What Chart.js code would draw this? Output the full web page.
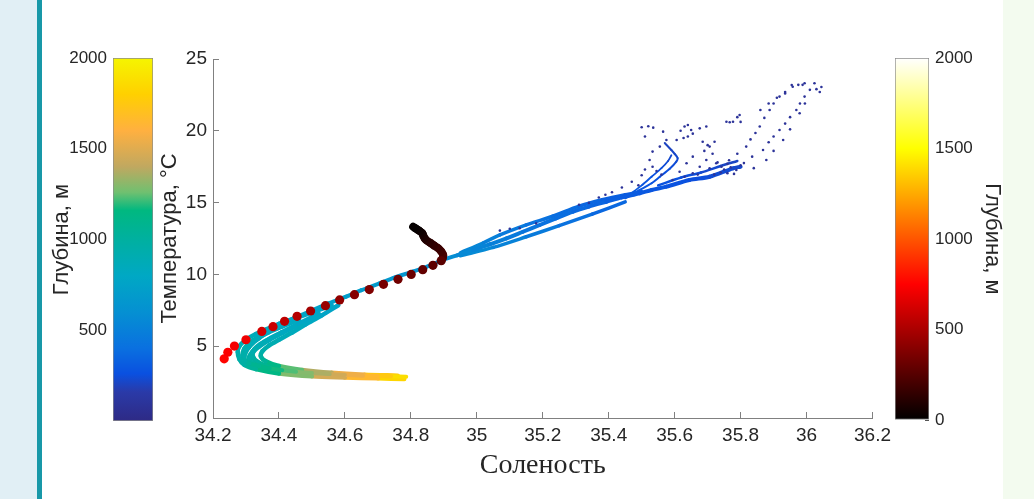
<!DOCTYPE html>
<html>
<head>
<meta charset="utf-8">
<script src="https://cdn.jsdelivr.net/npm/chart.js@4.4.1/dist/chart.umd.min.js"></script>
<style>
    body { margin: 0; width: 1034px; height: 499px; background: #e1eff5; position: relative; overflow: hidden; }
    #polosa { position: absolute; left: 37px; top: 0; width: 5px; height: 499px; background: #1898a8; }
    #panel { position: absolute; left: 42px; top: 0; width: 961px; height: 499px; background: #fff; }
    #pravo { position: absolute; left: 1003px; top: 0; width: 31px; height: 499px; background: #f3fbef; }
    canvas { position: absolute; }
</style>
</head>
<body>
<div id="polosa"></div>
<div id="panel"></div>
<div id="pravo"></div>
<canvas id="cbLevyj" width="118" height="499" style="left:42px;top:0"></canvas>
<canvas id="grafik" width="753" height="479" style="left:150px;top:20px"></canvas>
<canvas id="cbPravyj" width="123" height="499" style="left:880px;top:0"></canvas>
<script>
// подписи осей
const tikiSolenost = [34.2, 34.4, 34.6, 34.8, 35, 35.2, 35.4, 35.6, 35.8, 36, 36.2];
const tikiTemp = [0, 5, 10, 15, 20, 25];
const tikiLevyj = [500, 1000, 1500, 2000];
const tikiPravyj = [0, 500, 1000, 1500, 2000];

// станция с маркерами (цвет - глубина, шкала справа)
const tochkiS = [34.234, 34.245, 34.265, 34.300, 34.348, 34.382, 34.417, 34.455, 34.496, 34.541, 34.584, 34.629, 34.674, 34.717, 34.761, 34.801, 34.836, 34.867, 34.892];
const tochkiT = [4.12, 4.58, 5.01, 5.45, 6.03, 6.36, 6.73, 7.08, 7.45, 7.82, 8.22, 8.59, 8.94, 9.31, 9.66, 10.00, 10.33, 10.63, 10.95];
const tochkiD = [760, 740, 720, 700, 620, 590, 560, 530, 480, 450, 420, 395, 375, 350, 330, 310, 290, 275, 265];

// верхний слой той же станции
const verhS = [34.892, 34.897, 34.898, 34.892, 34.883, 34.870, 34.858, 34.848, 34.842, 34.838, 34.835, 34.828, 34.819, 34.812, 34.807];
const verhT = [10.95, 11.15, 11.35, 11.60, 11.82, 12.02, 12.21, 12.36, 12.51, 12.68, 12.86, 13.00, 13.14, 13.24, 13.32];
const verhD = [260, 240, 220, 200, 180, 160, 140, 120, 100, 85, 70, 50, 35, 20, 10];

// профили (цвет - глубина, шкала слева)
const prof1S = [34.786, 34.74, 34.70, 34.655, 34.60, 34.554, 34.50, 34.452, 34.41, 34.372, 34.34, 34.311, 34.298, 34.296, 34.301, 34.31, 34.321, 34.34, 34.362, 34.39, 34.422, 34.46, 34.503, 34.55, 34.604, 34.65, 34.705, 34.75, 34.806, 34.85, 34.891, 34.94, 34.989, 35.04, 35.09, 35.14, 35.191, 35.24, 35.292, 35.34, 35.393, 35.44, 35.494, 35.53, 35.575, 35.645, 35.706, 35.777, 35.80];
const prof1T = [2.88, 2.90, 2.93, 2.95, 3.00, 3.06, 3.13, 3.22, 3.33, 3.46, 3.62, 3.81, 4.00, 4.27, 4.62, 4.92, 5.20, 5.55, 5.90, 6.30, 6.71, 7.10, 7.52, 7.98, 8.45, 8.90, 9.38, 9.78, 10.19, 10.55, 10.95, 11.33, 11.70, 12.10, 12.51, 12.97, 13.44, 13.90, 14.37, 14.72, 15.06, 15.36, 15.65, 15.88, 16.11, 16.57, 16.80, 17.39, 17.50];
const prof1D = [1950, 1800, 1700, 1600, 1500, 1400, 1330, 1260, 1200, 1150, 1100, 1050, 1000, 960, 930, 900, 880, 860, 840, 820, 800, 780, 760, 740, 720, 700, 680, 660, 640, 620, 600, 570, 540, 510, 480, 450, 420, 400, 380, 360, 340, 320, 300, 290, 280, 260, 245, 230, 220];

const prof2S = [34.78, 34.70, 34.60, 34.50, 34.40, 34.33, 34.295, 34.28, 34.275, 34.28, 34.30, 34.33, 34.36, 34.40, 34.45, 34.50, 34.56];
const prof2T = [2.72, 2.76, 2.82, 2.90, 3.10, 3.40, 3.70, 4.10, 4.60, 5.00, 5.45, 5.85, 6.15, 6.55, 6.95, 7.35, 7.85];
const prof2D = [1900, 1750, 1550, 1380, 1200, 1080, 1000, 960, 930, 900, 880, 860, 840, 820, 800, 780, 750];

const prof3S = [34.76, 34.66, 34.56, 34.47, 34.40, 34.36, 34.345, 34.35, 34.37, 34.40, 34.44, 34.48, 34.53, 34.58];
const prof3T = [2.95, 3.02, 3.15, 3.35, 3.62, 3.95, 4.30, 4.65, 5.05, 5.45, 5.95, 6.50, 7.15, 7.85];
const prof3D = [1850, 1650, 1450, 1300, 1180, 1080, 1000, 960, 920, 890, 860, 830, 790, 750];

const prof4S = [34.72, 34.60, 34.50, 34.42, 34.36, 34.32, 34.31, 34.32, 34.34, 34.37, 34.41, 34.46, 34.52];
const prof4T = [2.82, 2.90, 3.02, 3.20, 3.45, 3.80, 4.20, 4.60, 5.00, 5.45, 5.95, 6.55, 7.25];
const prof4D = [1750, 1500, 1350, 1220, 1120, 1040, 980, 940, 900, 870, 840, 800, 770];

const prof5S = [34.55, 34.45, 34.38, 34.33, 34.30, 34.29, 34.295, 34.31, 34.335, 34.37, 34.41, 34.46];
const prof5T = [2.98, 3.15, 3.35, 3.60, 3.95, 4.35, 4.80, 5.20, 5.60, 6.00, 6.40, 6.85];
const prof5D = [1400, 1250, 1150, 1070, 1010, 970, 940, 910, 880, 855, 830, 805];

const prof6S = [34.50, 34.42, 34.37, 34.335, 34.32, 34.325, 34.345, 34.375, 34.41, 34.45, 34.50];
const prof6T = [3.18, 3.38, 3.58, 3.90, 4.30, 4.75, 5.15, 5.55, 5.95, 6.40, 6.95];
const prof6D = [1300, 1180, 1100, 1030, 980, 940, 905, 875, 845, 815, 785];

const prof7S = [34.95, 35.02, 35.07, 35.15, 35.23, 35.31, 35.38, 35.45, 35.50];
const prof7T = [11.50, 12.20, 12.75, 13.45, 14.05, 14.75, 15.20, 15.55, 15.75];
const prof7D = [560, 520, 480, 440, 400, 370, 340, 320, 300];

const prof8S = [34.95, 35.05, 35.15, 35.25, 35.35, 35.45];
const prof8T = [11.30, 11.88, 12.62, 13.40, 14.20, 15.05];
const prof8D = [580, 540, 490, 440, 390, 340];

const prof9S = [35.45, 35.494, 35.53, 35.555, 35.585, 35.605, 35.609, 35.60, 35.59, 35.57];
const prof9T = [15.30, 15.88, 16.35, 16.80, 17.35, 17.85, 18.10, 18.40, 18.66, 19.15];
const prof9D = [320, 300, 280, 265, 250, 240, 230, 220, 210, 200];

const prof10S = [35.46, 35.50, 35.53, 35.56, 35.58, 35.59];
const prof10T = [15.50, 16.20, 16.80, 17.40, 17.90, 18.30];
const prof10D = [310, 290, 270, 250, 235, 220];

const prof11S = [35.55, 35.62, 35.68, 35.74, 35.79];
const prof11T = [16.20, 16.75, 17.10, 17.55, 17.90];
const prof11D = [280, 260, 240, 220, 200];

// редкие точки поверхностного слоя
const poverhS = [35.07, 35.10, 35.13, 35.18, 35.31, 35.34, 35.37, 35.39, 35.41, 35.44, 35.47, 35.49,
    35.50, 35.52, 35.535, 35.51, 35.565, 35.575, 35.555, 35.533, 35.524, 35.533, 35.51, 35.50, 35.545, 35.56,
    35.64, 35.65, 35.655, 35.676, 35.696, 35.64, 35.627, 35.606, 35.618, 35.63,
    35.685, 35.706, 35.721, 35.715, 35.696, 35.676, 35.706, 35.726, 35.655, 35.636, 35.615, 35.655, 35.594, 35.63, 35.67, 35.69, 35.70, 35.73,
    35.757, 35.767, 35.777, 35.79, 35.797, 35.80,
    35.787, 35.81, 35.835, 35.868, 35.885, 35.90, 35.918, 35.935, 35.95, 35.969, 35.98, 35.994, 36.01, 36.024,
    35.742, 35.765, 35.79, 35.817, 35.83, 35.845, 35.858, 35.872, 35.888, 35.90, 35.918, 35.935, 35.958, 35.975, 35.994,
    35.84, 35.878, 35.90, 35.929, 35.95, 35.979, 35.995, 36.03, 36.045, 36.04,
    35.86, 35.885, 35.91, 35.935, 35.955, 35.988,
    35.72, 35.74, 35.76, 35.75, 35.78, 35.77, 35.80, 35.76];
const poverhT = [13.05, 13.18, 13.22, 13.55, 14.85, 14.98, 15.35, 15.55, 15.72, 16.05, 16.45, 16.20,
    20.25, 20.32, 20.22, 19.60, 19.94, 19.36, 18.90, 18.55, 17.97, 17.50, 17.30, 16.90, 17.20, 16.95,
    20.40, 20.06, 19.80, 20.17, 20.30, 19.60, 19.50, 19.36, 20.00, 20.30,
    19.24, 18.90, 19.24, 18.40, 17.97, 17.50, 17.39, 17.74, 18.20, 17.74, 17.15, 17.04, 16.57, 16.80, 16.95, 18.60, 19.00, 17.80,
    20.63, 20.60, 20.63, 20.95, 21.10, 20.62,
    17.27, 17.75, 18.20, 18.66, 19.20, 19.60, 20.06, 20.50, 20.95, 21.45, 21.90, 22.38, 22.85, 23.31,
    17.50, 17.95, 18.40, 18.90, 19.40, 19.85, 20.30, 20.90, 21.45, 21.90, 22.38, 22.70, 23.07, 23.20, 23.31,
    17.40, 17.97, 18.60, 19.36, 20.10, 21.22, 21.90, 22.90, 23.05, 22.70,
    21.45, 21.90, 22.30, 22.60, 23.19, 23.20,
    16.95, 17.10, 17.05, 17.30, 17.00, 17.45, 17.60, 17.70];
const poverhD = 90;

// цветовые шкалы
const parula = [[0, "#2e2a85"], [0.08, "#2a3aa8"], [0.13, "#0a50e0"], [0.2, "#0a70e0"], [0.3, "#0590d2"], [0.4, "#00a8c4"], [0.5, "#00b0a0"], [0.58, "#00b880"], [0.63, "#70c070"], [0.7, "#c0a860"], [0.8, "#ffb040"], [0.9, "#ffd000"], [1, "#f5f500"]];
const hot = [[0, "#000000"], [0.375, "#ff0000"], [0.75, "#ffff00"], [1, "#ffffff"]];
const maxGlubina = 2000;

function hexRgb(h) {
    return [parseInt(h.substr(1, 2), 16), parseInt(h.substr(3, 2), 16), parseInt(h.substr(5, 2), 16)];
}

function cvet(shkala, d) {
    const v = Math.min(Math.max(d / maxGlubina, 0), 1);
    for (let i = 1; i < shkala.length; i++) {
        if (v <= shkala[i][0]) {
            const a = hexRgb(shkala[i - 1][1]);
            const b = hexRgb(shkala[i][1]);
            const k = (v - shkala[i - 1][0]) / (shkala[i][0] - shkala[i - 1][0]);
            return "rgb(" + a.map((c, j) => Math.round(c + (b[j] - c) * k)).join(",") + ")";
        }
    }
    return shkala[shkala.length - 1][1];
}

function profil(S, T, D, shkala, shirina) {
    return {
        data: S.map((s, i) => ({ x: s, y: T[i] })),
        showLine: true,
        borderWidth: shirina,
        borderColor: cvet(shkala, D[0]),
        borderCapStyle: "round",
        borderJoinStyle: "round",
        tension: 0.3,
        pointRadius: 0,
        segment: {
            borderColor: c => cvet(shkala, (D[c.p0DataIndex] + D[c.p1DataIndex]) / 2)
        }
    };
}

const shriftCifr = { family: "Liberation Sans", size: 19 };
const cvetTeksta = "#262626";

new Chart(document.getElementById("grafik"), {
    type: "scatter",
    data: {
        datasets: [
            {
                data: tochkiS.map((s, i) => ({ x: s, y: tochkiT[i] })),
                pointRadius: 4.6,
                pointBorderWidth: 0,
                pointBackgroundColor: tochkiD.map(d => cvet(hot, d))
            },
            profil(verhS, verhT, verhD, hot, 8),
            {
                data: poverhS.map((s, i) => ({ x: s, y: poverhT[i] })),
                pointRadius: 1.3,
                pointBorderWidth: 0,
                pointBackgroundColor: cvet(parula, poverhD)
            },
            profil(prof1S, prof1T, prof1D, parula, 4),
            profil(prof2S, prof2T, prof2D, parula, 4.5),
            profil(prof3S, prof3T, prof3D, parula, 4.5),
            profil(prof4S, prof4T, prof4D, parula, 5),
            profil(prof5S, prof5T, prof5D, parula, 5),
            profil(prof6S, prof6T, prof6D, parula, 5),
            profil(prof7S, prof7T, prof7D, parula, 3.5),
            profil(prof8S, prof8T, prof8D, parula, 3.5),
            profil(prof9S, prof9T, prof9D, parula, 2),
            profil(prof10S, prof10T, prof10D, parula, 1.8),
            profil(prof11S, prof11T, prof11D, parula, 2.5)
        ]
    },
    options: {
        responsive: false,
        animation: false,
        devicePixelRatio: 1,
        layout: { padding: { left: 0, top: 39, right: 20, bottom: 0 } },
        plugins: { legend: { display: false }, tooltip: { enabled: false } },
        scales: {
            x: {
                type: "linear",
                min: 34.2,
                max: 36.2,
                afterBuildTicks: s => { s.ticks = tikiSolenost.map(v => ({ value: v })); },
                afterFit: s => { s.height = 81; },
                ticks: { callback: v => String(Math.round(v * 10) / 10), font: shriftCifr, color: cvetTeksta, padding: 12, maxRotation: 0, autoSkip: false },
                grid: { drawOnChartArea: false, drawTicks: true, tickLength: -6, color: "#808080" },
                border: { color: "#808080" },
                title: { display: true, text: "Соленость", color: cvetTeksta, font: { family: "Liberation Serif", size: 28, lineHeight: 1 }, padding: { top: 0, bottom: 19 } }
            },
            y: {
                type: "linear",
                min: 0,
                max: 25,
                afterBuildTicks: s => { s.ticks = tikiTemp.map(v => ({ value: v })); },
                afterFit: s => { s.width = 63; },
                ticks: { font: shriftCifr, color: cvetTeksta, padding: 12 },
                grid: { drawOnChartArea: false, drawTicks: true, tickLength: -6, color: "#808080" },
                border: { color: "#808080" },
                title: { display: true, text: "Температура, °C", color: cvetTeksta, font: { family: "Liberation Sans", size: 22, lineHeight: 1 }, padding: { top: 9, bottom: 0 } }
            }
        }
    }
});

function gradient(c, shkala) {
    const ch = c.chart;
    if (!ch.chartArea) return "#ffffff";
    const y = ch.scales.y;
    const g = ch.ctx.createLinearGradient(0, y.getPixelForValue(0), 0, y.getPixelForValue(maxGlubina));
    shkala.forEach(st => g.addColorStop(st[0], st[1]));
    return g;
}

function kolorbar(id, shkala, tiki, poziciya, padding, shirinaOsi, titlePad) {
    new Chart(document.getElementById(id), {
        type: "bar",
        data: {
            labels: [""],
            datasets: [{
                data: [maxGlubina],
                backgroundColor: c => gradient(c, shkala),
                borderColor: "#8c8c8c",
                borderWidth: 1,
                borderSkipped: false,
                barPercentage: 1,
                categoryPercentage: 1
            }]
        },
        options: {
            responsive: false,
            animation: false,
            devicePixelRatio: 1,
            layout: { padding: padding },
            plugins: { legend: { display: false }, tooltip: { enabled: false } },
            scales: {
                x: { display: false },
                y: {
                    position: poziciya,
                    min: 0,
                    max: maxGlubina,
                    z: 1,
                    afterBuildTicks: s => { s.ticks = tiki.map(v => ({ value: v })); },
                    afterFit: s => { s.width = shirinaOsi; },
                    ticks: { callback: v => String(v), font: { family: "Liberation Sans", size: 17 }, color: cvetTeksta, padding: 10 },
                    grid: { drawOnChartArea: false, drawTicks: true, tickLength: -4, color: "#555555" },
                    border: { display: false },
                    title: { display: true, text: "Глубина, м", color: cvetTeksta, font: { family: "Liberation Sans", size: 22, lineHeight: 1 }, padding: { top: titlePad, bottom: 0 } }
                }
            }
        }
    });
}

kolorbar("cbLevyj", parula, tikiLevyj, "left", { left: 0, right: 7, top: 58, bottom: 78 }, 71, 9);
kolorbar("cbPravyj", hot, tikiPravyj, "right", { left: 15, right: 0, top: 58, bottom: 79 }, 74, 0);
</script>
</body>
</html>
